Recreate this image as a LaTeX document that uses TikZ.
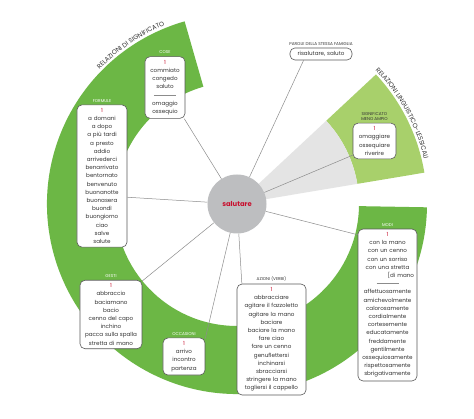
\documentclass[tikz,border=0pt]{standalone}
\usepackage{fontspec}
\setmainfont{Poppins}
\usetikzlibrary{decorations.text}

\definecolor{ringgreen}{HTML}{6CB745}
\definecolor{palegreen}{HTML}{A8D06B}
\definecolor{wedgegrey}{HTML}{E4E4E4}
\definecolor{circlegrey}{HTML}{BDBEC0}
\definecolor{boxborder}{HTML}{5A5A5A}
\definecolor{linegrey}{HTML}{8C8C8C}
\definecolor{numred}{HTML}{C8102E}
\definecolor{textgrey}{HTML}{333333}

\newcommand{\firstnum}{\textcolor{numred}{1}}
\newcommand{\sepbar}{\textcolor{linegrey}{\rule[2pt]{22pt}{0.3pt}}}
\newcommand{\arcfont}{\fontsize{6.4}{7}\selectfont\color{textgrey}}

\tikzset{
	box/.style={draw=boxborder, line width=0.6pt, fill=white,
		rounded corners=5pt, align=center, inner xsep=2pt, inner ysep=3.5pt,
		font=\fontsize{5.6}{8.2}\selectfont, text=textgrey},
	cat/.style={font=\fontsize{4.2}{5}\selectfont, text=white,
		inner sep=1pt, align=center, label distance=1.2pt},
	catdark/.style={cat, text=textgrey},
	link/.style={draw=linegrey, line width=0.5pt}
}

\begin{document}
\begin{tikzpicture}[x=1pt, y=1pt]
		
		\useasboundingbox[fill=white] (-237,-215) rectangle (237,204);
		
		% Relazioni di significato
		\fill [ringgreen] (106:190) arc[start angle=106, end angle=359, radius=190]
		-- (359:122) arc[start angle=359, end angle=106, radius=122] -- cycle;
		
		% Relazioni linguistico-lessicali
		\fill [palegreen] (9.5:190) arc[start angle=9.5, end angle=43, radius=190]
		-- (43:122) arc[start angle=43, end angle=9.5, radius=122] -- cycle;
		
		\fill [wedgegrey] (0,0) -- (9.5:122) arc[start angle=9.5, end angle=43, radius=122] -- cycle;
		
		\path [decorate, decoration={text along path,
			text={|\arcfont|RELAZIONI DI SIGNIFICATO}}]
		(135.5:192.5) arc[start angle=135.5, end angle=95, radius=192.5];
		
		\path [decorate, decoration={text along path,
			text={|\arcfont|RELAZIONI LINGUISTICO-LESSICALI}}]
		(44:192.5) arc[start angle=44, end angle=-5, radius=192.5];
		
		% Parola centrale
		\node [circle,
		fill=circlegrey,
		minimum size=59pt,
		font=\bfseries\fontsize{6.8}{8}\selectfont,
		text=numred] (sal) at (0,0) {salutare};
		
		\node [box, text width=36pt,
		label={[cat]above:COSE}] (cose) at (-72,116.5)
		{\firstnum\\commiato\\congedo\\saluto\\ \sepbar\\ omaggio\\ossequio};
		
		\node [box, text width=46pt,
		label={[cat]above:FORMULE}] (formule) at (-135,28)
		{\firstnum\\a domani\\a dopo\\a più tardi\\a presto\\addio\\arrivederci\\benarrivato\\bentornato\\benvenuto\\buonanotte\\buonasera\\buondì\\buongiorno\\ciao\\salve\\salute};
		
		\node [box, text width=58pt,
		label={[cat]above:GESTI}] (gesti) at (-126,-110.5)
		{\firstnum\\abbraccio\\baciamano\\bacio\\cenno del capo\\inchino\\pacca sulla spalla\\stretta di mano};
		
		\node [box, text width=38pt,
		label={[cat]above:OCCASIONI}] (occ) at (-53,-152.5)
		{\firstnum\\arrivo\\incontro\\partenza};
		
		\node [box, text width=65pt,
		label={[catdark]above:AZIONI (VERBI)}] (azioni) at (34.5,-135.5)
		{\firstnum\\abbracciare\\agitare il fazzoletto\\agitare la mano\\baciare\\baciare la mano\\fare ciao\\fare un cenno\\genuflettersi\\inchinarsi\\sbracciarsi\\stringere la mano\\togliersi il cappello};
		
		\node [box, text width=55pt,
		label={[cat]above:MODI}] (modi) at (150.5,-101)
		{\firstnum\\con la mano\\con un cenno\\con un sorriso\\con una stretta\\ \makebox[\linewidth][r]{[di mano\hspace{1pt}}\\ \sepbar\\ affettuosamente\\amichevolmente\\calorosamente\\cordialmente\\cortesemente\\educatamente\\freddamente\\gentilmente\\ossequiosamente\\rispettosamente\\sbrigativamente};
		
		\node [box, text width=39pt,
		label={[catdark]above:SIGNIFICATO\\MENO AMPIO}] (meno) at (137.5,63)
		{\firstnum\\omaggiare\\ossequiare\\riverire};
		
		\node [box, text width=58pt,
		label={[catdark]above:PAROLE DELLA STESSA FAMIGLIA}] (parole) at (84,150)
		{risalutare, saluto};
		
		% Collegamenti
		\draw [link] (sal) -- (cose);
		\draw [link] (sal) -- (formule.-40);
		\draw [link] (sal) -- (gesti.47);
		\draw [link] (sal) -- (occ.40);
		\draw [link] (sal) -- (azioni.118);
		\draw [link] (sal) -- (modi.113);
		\draw [link] (sal) -- (meno.213);
		\draw [link] (sal) -- (parole.200);
		
	\end{tikzpicture}
\end{document}
